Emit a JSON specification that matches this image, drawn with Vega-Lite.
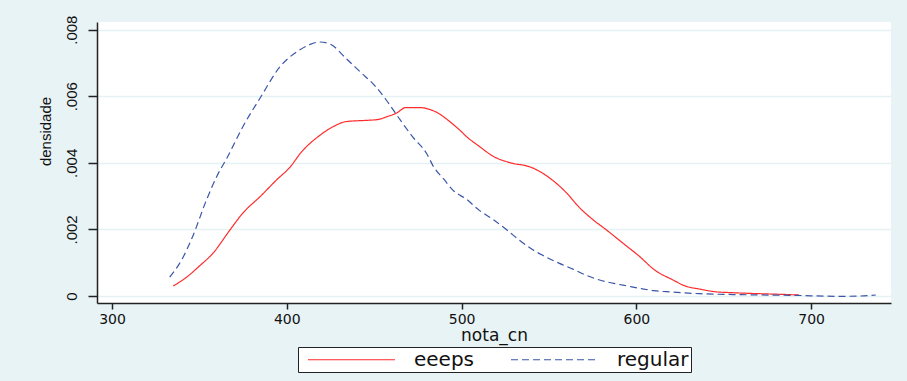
{
  "$schema": "https://vega.github.io/schema/vega-lite/v6.json",
  "autosize": {"type": "none"},
  "width": 794,
  "height": 281,
  "padding": {"left": 97, "top": 22, "right": 16, "bottom": 78},
  "background": "#e8f3f6",
  "config": {
    "view": {"fill": "white", "stroke": null},
    "font": "DejaVu Sans"
  },
  "data": {
    "values": [
      {"x": 335, "y": 0.0003, "g": "eeeps"},
      {"x": 343, "y": 0.00058, "g": "eeeps"},
      {"x": 350, "y": 0.0009, "g": "eeeps"},
      {"x": 358, "y": 0.0013, "g": "eeeps"},
      {"x": 367, "y": 0.00195, "g": "eeeps"},
      {"x": 375, "y": 0.0025, "g": "eeeps"},
      {"x": 385, "y": 0.003, "g": "eeeps"},
      {"x": 394, "y": 0.00348, "g": "eeeps"},
      {"x": 402, "y": 0.00388, "g": "eeeps"},
      {"x": 408, "y": 0.0043, "g": "eeeps"},
      {"x": 419, "y": 0.00483, "g": "eeeps"},
      {"x": 427, "y": 0.0051, "g": "eeeps"},
      {"x": 434, "y": 0.00524, "g": "eeeps"},
      {"x": 447, "y": 0.00528, "g": "eeeps"},
      {"x": 452, "y": 0.0053, "g": "eeeps"},
      {"x": 457, "y": 0.00538, "g": "eeeps"},
      {"x": 463, "y": 0.0055, "g": "eeeps"},
      {"x": 468, "y": 0.00566, "g": "eeeps"},
      {"x": 476, "y": 0.00566, "g": "eeeps"},
      {"x": 482, "y": 0.0056, "g": "eeeps"},
      {"x": 487, "y": 0.00548, "g": "eeeps"},
      {"x": 491, "y": 0.00533, "g": "eeeps"},
      {"x": 499, "y": 0.00498, "g": "eeeps"},
      {"x": 503, "y": 0.00478, "g": "eeeps"},
      {"x": 510, "y": 0.0045, "g": "eeeps"},
      {"x": 518, "y": 0.0042, "g": "eeeps"},
      {"x": 528, "y": 0.004, "g": "eeeps"},
      {"x": 539, "y": 0.00388, "g": "eeeps"},
      {"x": 546, "y": 0.0037, "g": "eeeps"},
      {"x": 552, "y": 0.00348, "g": "eeeps"},
      {"x": 560, "y": 0.0031, "g": "eeeps"},
      {"x": 567, "y": 0.00268, "g": "eeeps"},
      {"x": 575, "y": 0.0023, "g": "eeeps"},
      {"x": 583, "y": 0.00198, "g": "eeeps"},
      {"x": 592, "y": 0.0016, "g": "eeeps"},
      {"x": 602, "y": 0.00118, "g": "eeeps"},
      {"x": 610, "y": 0.0008, "g": "eeeps"},
      {"x": 621, "y": 0.00048, "g": "eeeps"},
      {"x": 628, "y": 0.0003, "g": "eeeps"},
      {"x": 636, "y": 0.00021, "g": "eeeps"},
      {"x": 645, "y": 0.00013, "g": "eeeps"},
      {"x": 655, "y": 0.0001, "g": "eeeps"},
      {"x": 670, "y": 0.00007, "g": "eeeps"},
      {"x": 683, "y": 0.00005, "g": "eeeps"},
      {"x": 693, "y": 0.00003, "g": "eeeps"},
      {"x": 333, "y": 0.00057, "g": "regular"},
      {"x": 340, "y": 0.0011, "g": "regular"},
      {"x": 346, "y": 0.00177, "g": "regular"},
      {"x": 354, "y": 0.00288, "g": "regular"},
      {"x": 360, "y": 0.0036, "g": "regular"},
      {"x": 366, "y": 0.00417, "g": "regular"},
      {"x": 375, "y": 0.0051, "g": "regular"},
      {"x": 385, "y": 0.00597, "g": "regular"},
      {"x": 396, "y": 0.00688, "g": "regular"},
      {"x": 407, "y": 0.00738, "g": "regular"},
      {"x": 413, "y": 0.00755, "g": "regular"},
      {"x": 419, "y": 0.00763, "g": "regular"},
      {"x": 425, "y": 0.00756, "g": "regular"},
      {"x": 434, "y": 0.00713, "g": "regular"},
      {"x": 442, "y": 0.00673, "g": "regular"},
      {"x": 451, "y": 0.00628, "g": "regular"},
      {"x": 457, "y": 0.00588, "g": "regular"},
      {"x": 465, "y": 0.00528, "g": "regular"},
      {"x": 472, "y": 0.00478, "g": "regular"},
      {"x": 480, "y": 0.00428, "g": "regular"},
      {"x": 484, "y": 0.00388, "g": "regular"},
      {"x": 490, "y": 0.0035, "g": "regular"},
      {"x": 495, "y": 0.00318, "g": "regular"},
      {"x": 503, "y": 0.0029, "g": "regular"},
      {"x": 510, "y": 0.00258, "g": "regular"},
      {"x": 518, "y": 0.0023, "g": "regular"},
      {"x": 526, "y": 0.00198, "g": "regular"},
      {"x": 533, "y": 0.00168, "g": "regular"},
      {"x": 541, "y": 0.00138, "g": "regular"},
      {"x": 548, "y": 0.00118, "g": "regular"},
      {"x": 556, "y": 0.00098, "g": "regular"},
      {"x": 564, "y": 0.0008, "g": "regular"},
      {"x": 571, "y": 0.00063, "g": "regular"},
      {"x": 579, "y": 0.00048, "g": "regular"},
      {"x": 587, "y": 0.00038, "g": "regular"},
      {"x": 595, "y": 0.0003, "g": "regular"},
      {"x": 602, "y": 0.00023, "g": "regular"},
      {"x": 610, "y": 0.00016, "g": "regular"},
      {"x": 620, "y": 0.00012, "g": "regular"},
      {"x": 636, "y": 0.00007, "g": "regular"},
      {"x": 660, "y": 0.00004, "g": "regular"},
      {"x": 690, "y": 0.00002, "g": "regular"},
      {"x": 716, "y": -0.00001, "g": "regular"},
      {"x": 728, "y": 0.0, "g": "regular"},
      {"x": 737, "y": 0.00003, "g": "regular"}
    ]
  },
  "mark": {"type": "line", "strokeWidth": 1.2, "interpolate": "monotone"},
  "encoding": {
    "x": {
      "field": "x", "type": "quantitative",
      "scale": {"domain": [291.4, 745.7], "nice": false, "zero": false},
      "axis": {
        "values": [300, 400, 500, 600, 700],
        "title": "nota_cn",
        "titleFont": "DejaVu Sans", "titleFontSize": 17, "titleFontWeight": "normal", "titleColor": "#111",
        "titleY": 37, "titleBaseline": "alphabetic",
        "labelFont": "DejaVu Sans", "labelFontSize": 14, "labelColor": "#111",
        "labelPadding": 3,
        "grid": false,
        "domainColor": "#222", "domainWidth": 1.5,
        "tickColor": "#222", "tickWidth": 1.5, "tickSize": 6
      }
    },
    "y": {
      "field": "y", "type": "quantitative",
      "scale": {"domain": [-0.00021, 0.00823], "nice": false, "zero": false},
      "axis": {
        "values": [0, 0.002, 0.004, 0.006, 0.008],
        "labelExpr": "datum.value == 0 ? '0' : replace(format(datum.value, '.3f'), '0.', '.')",
        "labelAngle": -90,
        "labelFont": "Liberation Sans", "labelFontSize": 15, "labelColor": "#111",
        "labelPadding": 9,
        "title": "densidade",
        "titleFont": "Liberation Sans", "titleFontSize": 15, "titleFontWeight": "normal", "titleColor": "#111",
        "titleX": -52, "titleY": 109, "titleAngle": -90, "titleBaseline": "middle", "titleAlign": "center",
        "grid": true, "gridColor": "#e6f1f3", "gridWidth": 1.5,
        "domainColor": "#222", "domainWidth": 1.5,
        "tickColor": "#222", "tickWidth": 1.5, "tickSize": 9
      }
    },
    "color": {
      "field": "g", "type": "nominal",
      "scale": {"domain": ["eeeps", "regular"], "range": ["#ff2a2a", "#3a55a8"]},
      "legend": {
        "title": null, "orient": "none", "legendX": 201, "legendY": 325,
        "direction": "horizontal", "strokeColor": "#222", "fillColor": "white",
        "padding": 2, "symbolType": "M-0.263,0H8.895", "symbolSize": 361, "symbolStrokeWidth": 1.2,
        "labelFont": "DejaVu Sans", "labelFontSize": 20, "labelColor": "#111",
        "labelOffset": 93, "columnPadding": 28
      }
    },
    "strokeDash": {
      "field": "g", "type": "nominal",
      "scale": {"domain": ["eeeps", "regular"], "range": [[1, 0], [7, 4]]},
      "legend": {
        "title": null, "orient": "none", "legendX": 201, "legendY": 325,
        "direction": "horizontal", "strokeColor": "#222", "fillColor": "white",
        "padding": 2, "symbolType": "M-0.263,0H8.895", "symbolSize": 361, "symbolStrokeWidth": 1.2,
        "labelFont": "DejaVu Sans", "labelFontSize": 20, "labelColor": "#111",
        "labelOffset": 93, "columnPadding": 28
      }
    }
  }
}
